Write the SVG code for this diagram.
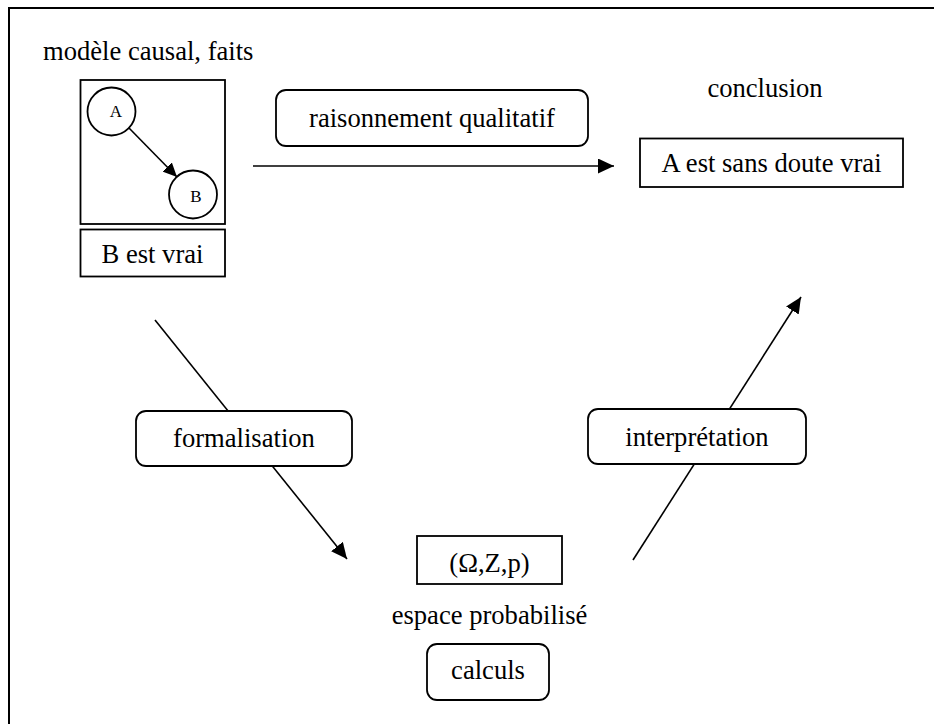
<svg xmlns="http://www.w3.org/2000/svg" width="934" height="724" viewBox="0 0 934 724">
  <style>
    text { font-family: "Liberation Serif", "Times New Roman", serif; font-size: 26.6px; fill: #000; }
    .mid { text-anchor: middle; }
    .small { font-size: 17px; }
    .box { fill: #fff; stroke: #000; stroke-width: 1.8; }
    .frame { fill: none; stroke: #000; stroke-width: 1.8; }
    .edge { fill: none; stroke: #000; stroke-width: 1.6; }
  </style>
  <defs>
    <marker id="arrow" viewBox="0 0 16 15" refX="16" refY="7.5" markerWidth="16" markerHeight="15" markerUnits="userSpaceOnUse" orient="auto">
      <path d="M0,0 L16,7.5 L0,15 Z" fill="#000"/>
    </marker>
    <marker id="arrow-s" viewBox="0 0 14 13" refX="14" refY="6.5" markerWidth="14" markerHeight="13" markerUnits="userSpaceOnUse" orient="auto">
      <path d="M0,0 L14,6.5 L0,13 Z" fill="#000"/>
    </marker>
  </defs>

  <rect width="934" height="724" fill="#fff"/>
  <!-- outer frame (top and left edges visible) -->
  <path d="M9,740 L9,8 L940,8" fill="none" stroke="#000" stroke-width="2"/>

  <g id="model">
    <text x="43" y="60">modèle causal, faits</text>
    <rect class="frame" x="80.5" y="80" width="144.5" height="144"/>
  </g>

  <!-- connectors -->
  <g id="connectors">
    <line class="edge" x1="129" y1="128" x2="177" y2="177" marker-end="url(#arrow-s)"/>
    <line class="edge" x1="253" y1="166" x2="614" y2="166" marker-end="url(#arrow)"/>
    <line class="edge" x1="155" y1="320" x2="347" y2="559" marker-end="url(#arrow)"/>
    <line class="edge" x1="633" y1="560" x2="801" y2="297" marker-end="url(#arrow)"/>
  </g>

  <g id="node-a">
    <circle class="box" cx="111.5" cy="111.5" r="24"/>
    <text class="small mid" x="116" y="117">A</text>
  </g>
  <g id="node-b">
    <circle class="box" cx="193" cy="194.5" r="24"/>
    <text class="small mid" x="196" y="202">B</text>
  </g>

  <g id="fact">
    <rect class="box" x="80.5" y="229.5" width="144.5" height="47"/>
    <text class="mid" x="152.5" y="263">B est vrai</text>
  </g>

  <g id="reasoning">
    <rect class="box" x="276" y="90" width="312" height="56" rx="10"/>
    <text class="mid" x="432" y="127">raisonnement qualitatif</text>
  </g>

  <g id="conclusion">
    <text class="mid" x="765" y="97">conclusion</text>
    <rect class="box" x="640" y="138.5" width="263" height="48.5"/>
    <text class="mid" x="771.5" y="172">A est sans doute vrai</text>
  </g>

  <g id="formalisation">
    <rect class="box" x="136" y="411" width="216" height="55" rx="10"/>
    <text class="mid" x="244" y="447">formalisation</text>
  </g>

  <g id="interpretation">
    <rect class="box" x="588" y="409" width="218" height="55" rx="10"/>
    <text class="mid" x="697" y="446">interprétation</text>
  </g>

  <g id="probability-space">
    <rect class="box" x="417" y="536" width="145" height="48"/>
    <text class="mid" x="489.5" y="572">(Ω,Z,p)</text>
    <text class="mid" x="489.5" y="624">espace probabilisé</text>
  </g>

  <g id="calculs">
    <rect class="box" x="427" y="644" width="122" height="56" rx="10"/>
    <text class="mid" x="488" y="679">calculs</text>
  </g>
</svg>
